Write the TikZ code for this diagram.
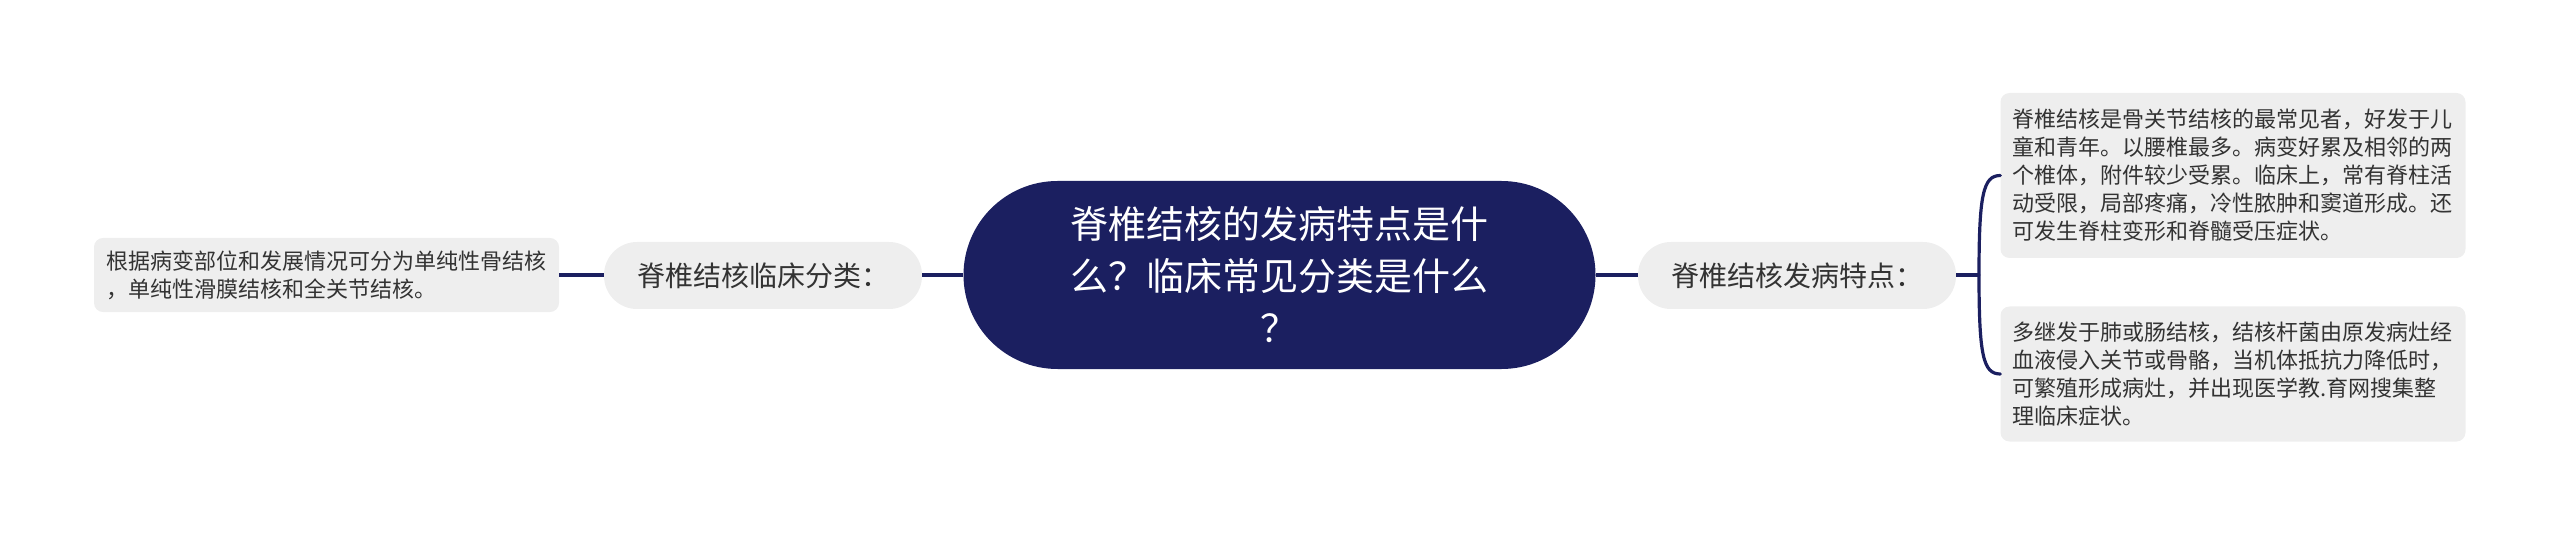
\documentclass[tikz,border=0pt]{standalone}
\usepackage{fontspec}
\setmainfont{Noto Sans CJK SC}
\definecolor{navy}{HTML}{1B1F60}
\definecolor{boxgray}{HTML}{EEEEEE}
\definecolor{txtgray}{HTML}{333333}
\begin{document}
\begin{tikzpicture}[x=1pt,y=-1pt,
  rootbox/.style={fill=navy,draw=none,text=white,rounded corners=94pt,minimum width=632pt,minimum height=188pt,align=center,font=\fontsize{38}{52}\selectfont,inner sep=0pt},
  midbox/.style={fill=boxgray,draw=none,text=txtgray,rounded corners=33pt,minimum width=318pt,minimum height=67pt,font=\fontsize{28}{34}\selectfont,inner sep=0pt},
  leafbox/.style={fill=boxgray,draw=none,text=txtgray,rounded corners=9pt,text width=441pt,inner xsep=12pt,inner ysep=12.5pt,align=left,font=\fontsize{22}{28}\selectfont},
  conn/.style={draw=navy,line width=3.2pt}]
\useasboundingbox (0,0) rectangle (2560,537);
\node[rootbox] (root) at (1279.5,275) {脊椎结核的发病特点是什\\么？临床常见分类是什么\\？};
\node[midbox] (lmid) at (763,275.5) {脊椎结核临床分类：};
\node[midbox] (rmid) at (1797,275.5) {脊椎结核发病特点：};
\node[leafbox,minimum width=463pt] (lleaf) at (326.5,275) {根据病变部位和发展情况可分为单纯性骨结核\\，单纯性滑膜结核和全关节结核。};
\node[leafbox,minimum width=465pt,minimum height=165pt] (rtop) at (2233,175.5) {脊椎结核是骨关节结核的最常见者，好发于儿\\童和青年。以腰椎最多。病变好累及相邻的两\\个椎体，附件较少受累。临床上，常有脊柱活\\动受限，局部疼痛，冷性脓肿和窦道形成。还\\可发生脊柱变形和脊髓受压症状。};
\node[leafbox,minimum width=465pt,minimum height=135pt] (rbot) at (2233,374) {多继发于肺或肠结核，结核杆菌由原发病灶经\\血液侵入关节或骨骼，当机体抵抗力降低时，\\可繁殖形成病灶，并出现医学教.育网搜集整\\理临床症状。};
\coordinate (fork) at (1979,275);
\draw[conn] (root.west) -- (lmid.east |- root.west);
\draw[conn] (lmid.west |- root.west) -- (lleaf.east |- root.west);
\draw[conn] (root.east) -- (rmid.west |- root.east);
\draw[conn] (rmid.east |- root.east) -- (fork);
\draw[conn,line cap=round] (fork) .. controls (1979,195) and (1983,175.5) .. (rtop.west);
\draw[conn,line cap=round] (fork) .. controls (1979,355) and (1983,374) .. (rbot.west);
\end{tikzpicture}
\end{document}
